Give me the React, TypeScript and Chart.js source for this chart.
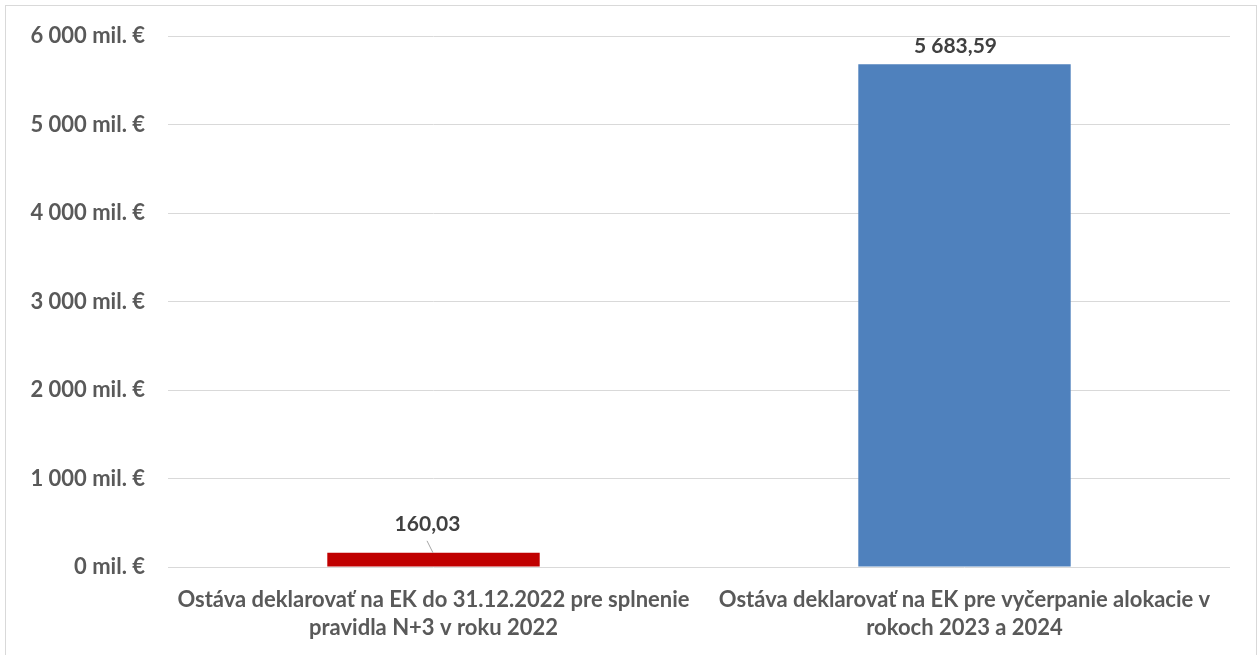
import React, { useEffect, useRef } from "react";
import { Chart, registerables } from "chart.js";

Chart.register(...registerables);

const categories: string[][] = [
  ["Ostáva deklarovať na EK do 31.12.2022 pre splnenie", "pravidla N+3 v roku 2022"],
  ["Ostáva deklarovať na EK pre vyčerpanie alokacie v", "rokoch 2023 a 2024"],
];
const values: number[] = [160.03, 5683.59];
const barColors: string[] = ["#C00000", "#4F81BD"];
const yTicks: number[] = [0, 1000, 2000, 3000, 4000, 5000, 6000];

const FONT = "Lato, 'Noto Sans', sans-serif";

function groupThousands(s: string): string {
  return s.replace(/\B(?=(\d{3})+(?!\d))/g, " ");
}
function fmtValue(v: number): string {
  const [i, d] = v.toFixed(2).split(".");
  return groupThousands(i) + "," + d;
}
function fmtTick(v: number): string {
  return groupThousands(String(Math.round(v))) + " mil. €";
}

// label placement style (offsets relative to bar top)
const labelStyle = [
  { dx: -6, dy: -29, leader: true },
  { dx: -9, dy: -18, leader: false },
];

const dataLabelPlugin = {
  id: "dataLabels",
  afterDatasetsDraw(chart: any) {
    const ctx = chart.ctx;
    const meta = chart.getDatasetMeta(0);
    ctx.save();
    ctx.font = `bold 21px ${FONT}`;
    ctx.fillStyle = "#404040";
    ctx.textAlign = "center";
    ctx.textBaseline = "middle";
    meta.data.forEach((bar: any, i: number) => {
      const st = labelStyle[i];
      const x = bar.x + st.dx;
      const y = bar.y + st.dy;
      ctx.fillText(fmtValue(values[i]), x, y);
      if (st.leader) {
        ctx.strokeStyle = "#A6A6A6";
        ctx.lineWidth = 1;
        ctx.beginPath();
        ctx.moveTo(x - 0.5, y + 17);
        ctx.lineTo(bar.x - 0.5, bar.y);
        ctx.stroke();
      }
    });
    ctx.restore();
  },
};

export default function App() {
  const ref = useRef<HTMLCanvasElement | null>(null);
  useEffect(() => {
    if (!ref.current) return;
    const chart = new Chart(ref.current, {
      type: "bar",
      data: {
        labels: categories,
        datasets: [
          {
            data: values,
            backgroundColor: barColors,
            borderWidth: 0,
            categoryPercentage: 0.8,
            barPercentage: 0.5,
          },
        ],
      },
      options: {
        responsive: false,
        animation: false,
        layout: { padding: { left: 0, right: 30, top: 36, bottom: 0 } },
        plugins: {
          legend: { display: false },
          tooltip: { enabled: false },
        },
        scales: {
          x: {
            grid: { display: false, drawTicks: false },
            border: { display: false },
            ticks: {
              color: "#595959",
              font: { family: FONT, size: 22, weight: "bold", lineHeight: 1.27 },
              padding: 19,
              maxRotation: 0,
              autoSkip: false,
            },
            afterFit: (s: any) => {
              s.height = 88;
            },
          },
          y: {
            min: 0,
            max: 6000,
            afterBuildTicks: (s: any) => {
              s.ticks = yTicks.map((v) => ({ value: v }));
            },
            grid: { color: "#D9D9D9", lineWidth: 1, drawTicks: false },
            border: { display: false },
            ticks: {
              color: "#595959",
              font: { family: FONT, size: 22, weight: "bold" },
              padding: 23,
              callback: (v: any) => fmtTick(Number(v)),
            },
            afterFit: (s: any) => {
              s.width = 168;
            },
          },
        },
      },
      plugins: [dataLabelPlugin],
    });
    return () => chart.destroy();
  }, []);

  return (
    <div
      style={{
        position: "absolute",
        left: 0,
        top: 0,
        width: 1260,
        height: 655,
        background: "#fff",
        overflow: "hidden",
      }}
    >
      <div
        style={{
          position: "absolute",
          left: 5,
          top: 5,
          width: 1252,
          height: 700,
          border: "1px solid #D9D9D9",
          boxSizing: "border-box",
        }}
      />
      <canvas
        ref={ref}
        width={1260}
        height={655}
        style={{ position: "absolute", left: 0, top: 0 }}
      />
    </div>
  );
}
